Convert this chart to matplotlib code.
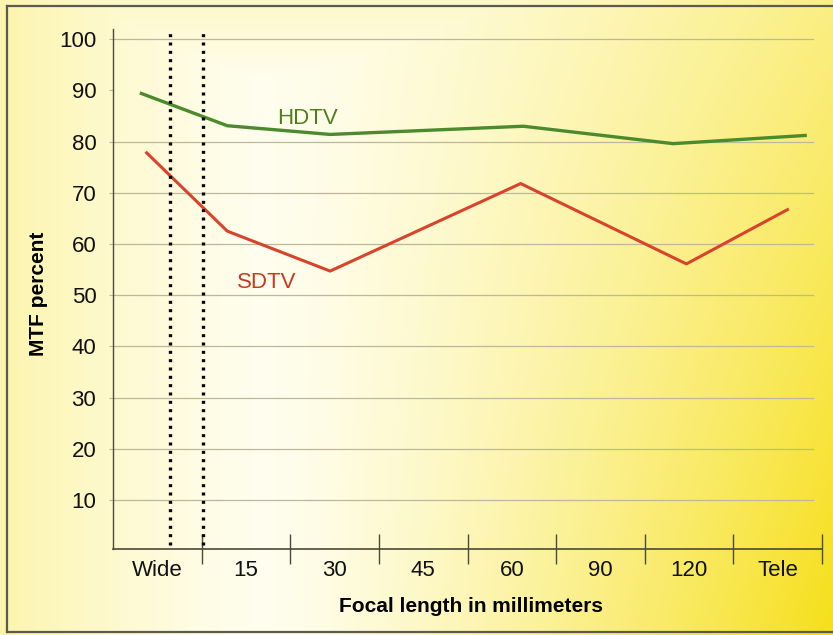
import numpy as np
import matplotlib
matplotlib.use("Agg")
import matplotlib.pyplot as plt
from matplotlib.lines import Line2D

# ---- data ----
categories = ["Wide", "15", "30", "45", "60", "90", "120", "Tele"]
y_ticks = [10, 20, 30, 40, 50, 60, 70, 80, 90, 100]
grid_values = [10, 20, 30, 40, 50, 60, 70, 80, 100]

hdtv_x = [0.32, 1.29, 2.45, 4.63, 6.32, 7.81]
hdtv_y = [89.4, 83.1, 81.4, 83.0, 79.6, 81.2]

sdtv_x = [0.38, 1.29, 2.45, 4.60, 6.47, 7.61]
sdtv_y = [77.8, 62.5, 54.7, 71.8, 56.1, 66.7]

dotted_x = [0.64, 1.02]

FONT = ["Liberation Sans", "DejaVu Sans"]
plt.rcParams["font.family"] = FONT

W, H = 833, 635
fig = plt.figure(figsize=(W / 100, H / 100), dpi=100)

# ---- gradient background ----
bg = fig.add_axes([0, 0, 1, 1])
u = np.linspace(0, 1, W)[None, :]
v = np.linspace(0, 1, H)[:, None]
right = np.clip((u - 0.33) / 0.67, 0, 1) ** 1.25 * (0.5 + 0.5 * v)
left = 0.30 * np.clip((0.3 - u) / 0.3, 0, 1) ** 1.2
top = 0.18 * np.clip((0.12 - v) / 0.12, 0, 1)
f = np.clip(np.maximum(np.maximum(right, left), top), 0, 1)[..., None]
white = np.array([1.0, 0.995, 0.93])
yellow = np.array([0.965, 0.875, 0.10])
img = white * (1 - f) + yellow * f
bg.imshow(img, aspect="auto", extent=[0, 1, 0, 1], origin="upper", zorder=0)
bg.set_xlim(0, 1)
bg.set_ylim(0, 1)
bg.axis("off")

# border
border_col = "#5a5a50"
fig.add_artist(Line2D([7 / W, 7 / W], [1 - 6 / H, 1 - 632 / H], transform=fig.transFigure, color=border_col, lw=1.6))
fig.add_artist(Line2D([7 / W, 1.0], [1 - 6 / H, 1 - 6 / H], transform=fig.transFigure, color=border_col, lw=1.6))
fig.add_artist(Line2D([7 / W, 1.0], [1 - 632 / H, 1 - 632 / H], transform=fig.transFigure, color=border_col, lw=1.6))

# ---- main axes ----
ax = fig.add_axes([113 / W, (H - 549) / H, 709 / W, 520 / H])
ax.set_facecolor("none")
ax.set_xlim(0, 8)
ax.set_ylim(0.4, 102)

axis_col = "#4a4a38"
for s in ["top", "right"]:
    ax.spines[s].set_visible(False)
ax.spines["left"].set_color(axis_col)
ax.spines["bottom"].set_color(axis_col)
ax.spines["left"].set_linewidth(1.0)
ax.spines["bottom"].set_linewidth(1.2)

# gridlines
for g in grid_values:
    ax.plot([0, 7.9], [g, g], color="#bcb89c", lw=0.9, zorder=1)

# y ticks
ax.set_yticks(y_ticks)
ax.set_yticklabels([str(t) for t in y_ticks], fontsize=16, color="#111111")
ax.tick_params(axis="y", length=3, width=0.8, color="#bcb89c", pad=9)

# x ticks: major at boundaries (marks), minor at centres (labels)
ax.set_xticks(range(1, 9))
ax.set_xticklabels([""] * 8)
ax.tick_params(axis="x", which="major", direction="inout", length=22, width=1.0, color=axis_col)
ax.set_xticks([i + 0.5 for i in range(8)], minor=True)
ax.set_xticklabels(categories, minor=True, fontsize=16, color="#111111")
ax.tick_params(axis="x", which="minor", length=0, pad=8)

# dotted reference lines
for dx in dotted_x:
    ax.plot([dx, dx], [1.2, 101.5], color="black", lw=2.4,
            linestyle=(0, (0.9, 1.6)), dash_capstyle="butt", zorder=4)

# data lines
ax.plot(hdtv_x, hdtv_y, color="#4b8a2e", lw=2.4, zorder=3, solid_joinstyle="round")
ax.plot(sdtv_x, sdtv_y, color="#d8432c", lw=2.2, zorder=3, solid_joinstyle="round")

ax.text(2.2, 84.5, "HDTV", color="#4e7f1f", fontsize=16, ha="center", va="center")
ax.text(1.73, 52.5, "SDTV", color="#c83a1e", fontsize=16, ha="center", va="center")

fig.text(471 / W, 1 - 607 / H, "Focal length in millimeters", fontsize=15,
         fontweight="bold", ha="center", va="center")
fig.text(38 / W, 1 - 294 / H, "MTF percent", fontsize=15, fontweight="bold",
         rotation=90, ha="center", va="center")

fig.savefig("out.png", dpi=100)
